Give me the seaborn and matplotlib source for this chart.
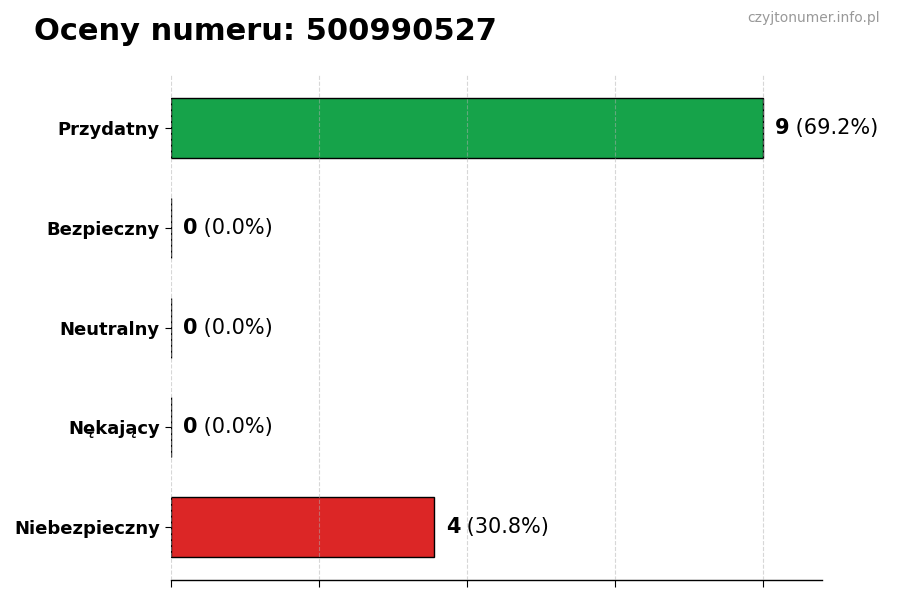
import numpy as np
import pandas as pd
import matplotlib
matplotlib.use("Agg")
import matplotlib.pyplot as plt
import seaborn as sns

# ---------------------------------------------------------------------------
# Data
# ---------------------------------------------------------------------------
categories = ["Przydatny", "Bezpieczny", "Neutralny", "Nękający", "Niebezpieczny"]
counts = [9, 0, 0, 0, 4]
colors = ["#16a34a", "#2563eb", "#9ca3af", "#f59e0b", "#dc2626"]
phone_number = "500990527"

total = sum(counts)
percents = [c / total * 100 for c in counts]
df = pd.DataFrame({"category": categories, "count": counts})

# ---------------------------------------------------------------------------
# Plot
# ---------------------------------------------------------------------------
sns.set_style("white")
plt.rcParams["font.family"] = ["DejaVu Sans"]
plt.rcParams["text.color"] = "black"
plt.rcParams["xtick.color"] = "black"
plt.rcParams["ytick.color"] = "black"
plt.rcParams["axes.edgecolor"] = "black"

fig, ax = plt.subplots(figsize=(9, 6), dpi=100)
fig.subplots_adjust(left=0.19, right=0.913, top=0.875, bottom=0.033)

sns.barplot(
    data=df, y="category", x="count", hue="category", order=categories,
    palette=dict(zip(categories, colors)), orient="h", width=0.6,
    saturation=1, edgecolor="black", linewidth=1, legend=False, ax=ax,
    zorder=2,
)

max_val = max(counts)
ax.set_xlim(0, max_val * 1.1)
ax.set_ylim(len(categories) - 0.47, -0.53)
ax.set_xticks(np.linspace(0, max_val, 5))
ax.set_xticklabels([])
ax.grid(axis="x", linestyle="--", color="#b0b0b0", alpha=0.5, zorder=3)
ax.set_axisbelow(False)
ax.set_xlabel("")
ax.set_ylabel("")
for lbl in ax.get_yticklabels():
    lbl.set_fontweight("bold")
    lbl.set_fontsize(13)
    lbl.set_color("black")
ax.tick_params(axis="y", length=4, width=0.8, left=True, pad=4)
ax.tick_params(axis="x", length=5, width=0.8, bottom=True)

sns.despine(ax=ax, left=True)
ax.spines["bottom"].set_linewidth(1)

offset = max_val * 0.02
for i, (c, p) in enumerate(zip(counts, percents)):
    t = ax.text(c + offset, i, f"{c}", fontsize=15, fontweight="bold",
                va="center", ha="left", color="black")
    ax.annotate(f" ({p:.1f}%)", xycoords=t, xy=(1, 0.5), va="center",
                ha="left", fontsize=15, color="black")

fig.text(0.038, 0.948, f"Oceny numeru: {phone_number}", fontsize=22,
         fontweight="bold", va="center", ha="left", color="black")
fig.text(0.978, 0.97, "czyjtonumer.info.pl", fontsize=10, color="#999999",
         va="center", ha="right")

plt.savefig("out.png", dpi=100)
plt.close()
